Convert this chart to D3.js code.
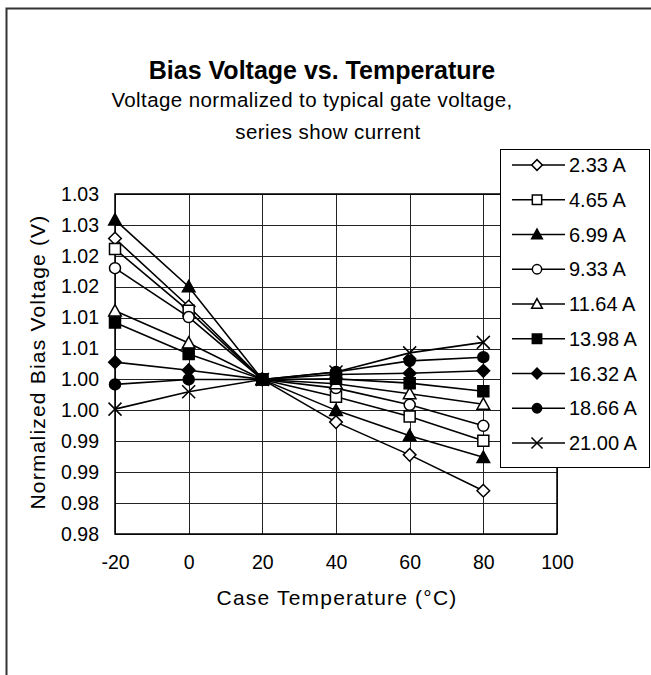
<!DOCTYPE html>
<html>
<head>
<meta charset="utf-8">
<script src="https://cdn.jsdelivr.net/npm/d3@7"></script>
<style>
  body { margin: 0; background: #fff; }
  text { font-family: "Liberation Sans", Arial, sans-serif; fill: #000; }
</style>
</head>
<body>
<div id="chart"></div>
<script>
// case temperature (x) and tick labels
var temps = [-20, 0, 20, 40, 60, 80];
var xTicks = [-20, 0, 20, 40, 60, 80, 100];
var yTicks = [0.975, 0.980, 0.985, 0.990, 0.995, 1.000, 1.005, 1.010, 1.015, 1.020, 1.025, 1.030];
var yTickLabels = ["0.98", "0.98", "0.99", "0.99", "1.00", "1.00", "1.01", "1.01", "1.02", "1.02", "1.03", "1.03"];

// series names (current) and normalized bias voltage
var seriesNames = ["2.33 A", "4.65 A", "6.99 A", "9.33 A", "11.64 A", "13.98 A", "16.32 A", "18.66 A", "21.00 A"];
var v233  = [1.0228, 1.0118, 1.000, 0.9931, 0.9878, 0.9820];
var v465  = [1.0211, 1.0111, 1.000, 0.9972, 0.9940, 0.9901];
var v699  = [1.0258, 1.0150, 1.000, 0.9950, 0.9909, 0.9874];
var v933  = [1.0180, 1.0101, 1.000, 0.9986, 0.9959, 0.9925];
var v1164 = [1.0111, 1.0059, 1.000, 0.9993, 0.9977, 0.9960];
var v1398 = [1.0092, 1.0041, 1.000, 1.0001, 0.9994, 0.9981];
var v1632 = [1.0028, 1.0015, 1.000, 1.0008, 1.0010, 1.0014];
var v1866 = [0.9992, 1.0000, 1.000, 1.0012, 1.0030, 1.0036];
var v2100 = [0.9952, 0.9980, 1.000, 1.0012, 1.0043, 1.0060];
var seriesValues = [v233, v465, v699, v933, v1164, v1398, v1632, v1866, v2100];

// marker shape and fill per series
var markerShapes = ["diamond", "square", "triangle", "circle", "triangle", "square", "diamond", "circle", "cross"];
var markerFilled = [false, false, true, false, false, true, true, true, false];

var W = 651, H = 675;
var plot = {left: 115, top: 194, right: 557, bottom: 534};

var svg = d3.select("#chart").append("svg")
    .attr("width", W)
    .attr("height", H);

// outer chart border (runs off the page on right / bottom)
svg.append("rect")
    .attr("x", 6.5).attr("y", 8.5)
    .attr("width", 700).attr("height", 700)
    .attr("fill", "none")
    .attr("stroke", "#333")
    .attr("stroke-width", 2);

var x = d3.scaleLinear().domain([-20, 100]).range([plot.left, plot.right]);
var y = d3.scaleLinear().domain([0.975, 1.030]).range([plot.bottom, plot.top]);

// gridlines
svg.append("g").selectAll("line.h")
    .data(yTicks)
  .enter().append("line")
    .attr("x1", plot.left).attr("x2", plot.right)
    .attr("y1", function(d) { return Math.round(y(d)) + 0.5; })
    .attr("y2", function(d) { return Math.round(y(d)) + 0.5; })
    .attr("stroke", "#222").attr("stroke-width", 1);

svg.append("g").selectAll("line.v")
    .data(xTicks)
  .enter().append("line")
    .attr("y1", plot.top).attr("y2", plot.bottom)
    .attr("x1", function(d) { return Math.round(x(d)) + 0.5; })
    .attr("x2", function(d) { return Math.round(x(d)) + 0.5; })
    .attr("stroke", "#222").attr("stroke-width", 1);

// plot area border
svg.append("rect")
    .attr("x", plot.left).attr("y", plot.top)
    .attr("width", plot.right - plot.left)
    .attr("height", plot.bottom - plot.top)
    .attr("fill", "none")
    .attr("stroke", "#000")
    .attr("stroke-width", 1.5);

// axes (labels only)
var xAxis = svg.append("g")
    .attr("transform", "translate(0," + plot.bottom + ")")
    .call(d3.axisBottom(x).tickValues(xTicks).tickSize(0).tickPadding(21)
      .tickFormat(function(d) { return String(d); }));
var yAxis = svg.append("g")
    .attr("transform", "translate(" + plot.left + ",0)")
    .call(d3.axisLeft(y).tickValues(yTicks).tickSize(0).tickPadding(16)
      .tickFormat(function(d, i) { return yTickLabels[i]; }));
[xAxis, yAxis].forEach(function(a) {
  a.select(".domain").remove();
  a.selectAll("text").style("font-size", "19.5px")
    .style("font-family", "'Liberation Sans', Arial, sans-serif");
});

// marker shapes as d3 symbol types (size = radius squared)
var shapes = {
  diamond: {draw: function(c, s) { var r = Math.sqrt(s); c.moveTo(0, -r); c.lineTo(r, 0); c.lineTo(0, r); c.lineTo(-r, 0); c.closePath(); }},
  square: {draw: function(c, s) { var r = Math.sqrt(s); c.rect(-r, -r, 2 * r, 2 * r); }},
  triangle: {draw: function(c, s) { var r = Math.sqrt(s); c.moveTo(0, -r); c.lineTo(r, r * 0.8); c.lineTo(-r, r * 0.8); c.closePath(); }},
  circle: {draw: function(c, s) { var r = Math.sqrt(s); c.moveTo(r, 0); c.arc(0, 0, r, 0, 2 * Math.PI); }},
  cross: {draw: function(c, s) { var r = Math.sqrt(s); c.moveTo(-r, -r); c.lineTo(r, r); c.moveTo(r, -r); c.lineTo(-r, r); }}
};
var shapeSize = {diamond: 6.3, square: 5.5, triangle: 6.3, circle: 5.5, cross: 6.5};

function marker(shape, scale) {
  var r = shapeSize[shape] * (scale || 1);
  return d3.symbol().type(shapes[shape]).size(r * r)();
}

var line = d3.line()
    .x(function(d) { return x(d.t); })
    .y(function(d) { return y(d.v); });

seriesValues.forEach(function(vals, i) {
  var pts = temps.map(function(t, j) { return {t: t, v: vals[j]}; });
  var g = svg.append("g");
  g.append("path")
      .attr("d", line(pts))
      .attr("fill", "none")
      .attr("stroke", "#000")
      .attr("stroke-width", 1.6);
  g.selectAll("path.m")
      .data(pts)
    .enter().append("path")
      .attr("class", "m")
      .attr("transform", function(d) { return "translate(" + x(d.t) + "," + y(d.v) + ")"; })
      .attr("d", marker(markerShapes[i]))
      .attr("fill", markerFilled[i] ? "#000" : "#fff")
      .attr("stroke", "#000")
      .attr("stroke-width", 1.5);
});

// legend
var leg = svg.append("g");
leg.append("rect")
    .attr("x", 500.5).attr("y", 149.5)
    .attr("width", 149).attr("height", 318)
    .attr("fill", "#fff")
    .attr("stroke", "#000")
    .attr("stroke-width", 1);
seriesNames.forEach(function(name, i) {
  var ly = 165 + i * 34.75;
  leg.append("line")
      .attr("x1", 512).attr("x2", 565)
      .attr("y1", ly).attr("y2", ly)
      .attr("stroke", "#000").attr("stroke-width", 1.6);
  leg.append("path")
      .attr("transform", "translate(537," + ly + ")")
      .attr("d", marker(markerShapes[i], 0.85))
      .attr("fill", markerFilled[i] ? "#000" : "#fff")
      .attr("stroke", "#000")
      .attr("stroke-width", 1.5);
  leg.append("text")
      .attr("x", 569).attr("y", ly + 7)
      .style("font-size", "20px")
      .text(name);
});

// titles
svg.append("text")
    .attr("x", 322).attr("y", 79)
    .attr("text-anchor", "middle")
    .style("font-size", "25px").style("font-weight", "bold")
    .text("Bias Voltage vs. Temperature");
svg.append("text")
    .attr("x", 312).attr("y", 107)
    .attr("text-anchor", "middle")
    .style("font-size", "20.5px").style("letter-spacing", "0.4px")
    .text("Voltage normalized to typical gate voltage,");
svg.append("text")
    .attr("x", 328).attr("y", 139)
    .attr("text-anchor", "middle")
    .style("font-size", "20.5px").style("letter-spacing", "0.4px")
    .text("series show current");

// axis titles
svg.append("text")
    .attr("x", 337).attr("y", 605)
    .attr("text-anchor", "middle")
    .style("font-size", "21px").style("letter-spacing", "1.2px")
    .text("Case Temperature (°C)");
svg.append("text")
    .attr("transform", "translate(45,362) rotate(-90)")
    .attr("text-anchor", "middle")
    .style("font-size", "21px").style("letter-spacing", "1.2px")
    .text("Normalized Bias Voltage (V)");
</script>
</body>
</html>
